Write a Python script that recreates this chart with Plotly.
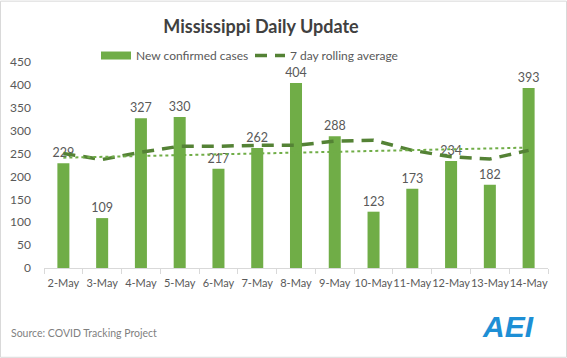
import plotly.graph_objects as go

dates = ["2-May", "3-May", "4-May", "5-May", "6-May", "7-May", "8-May",
         "9-May", "10-May", "11-May", "12-May", "13-May", "14-May"]
new_cases = [229, 109, 327, 330, 217, 262, 404, 288, 123, 173, 234, 182, 393]
rolling_avg = [250, 237, 253, 266, 266, 268, 268, 277, 279, 257, 243, 238, 257]
trend_x = ["2-May", "14-May"]
trend_y = [241, 263]
y_ticks = [0, 50, 100, 150, 200, 250, 300, 350, 400, 450]

W, H = 567, 358
L, R, T, B = 44, 19, 61.5, 90
PW, PH = W - L - R, H - T - B

def px(x):
    return (x - L) / PW

def py(y):
    return (H - B - y) / PH

GRAY = "#595959"
FONT = "Lato"
BAR_GREEN = "#70AD47"

fig = go.Figure()
fig.add_trace(go.Bar(
    x=dates, y=new_cases, name="New confirmed cases", showlegend=False,
    marker=dict(color=BAR_GREEN, line=dict(width=0)),
    width=0.31,
    text=new_cases, textposition="outside", constraintext="none",
    textfont=dict(color=GRAY, size=12.5, family=FONT),
    cliponaxis=False,
))
# legend swatch for the bars (wide rectangle like the original)
fig.add_trace(go.Scatter(
    x=[None], y=[None], name="New confirmed cases", mode="lines",
    line=dict(color=BAR_GREEN, width=8),
))
fig.add_trace(go.Scatter(
    x=dates, y=rolling_avg, name="7 day rolling average", mode="lines",
    line=dict(color="#548235", width=3.5, dash="12px,8px"),
))
fig.add_trace(go.Scatter(
    x=trend_x, y=trend_y, mode="lines", showlegend=False,
    line=dict(color=BAR_GREEN, width=2, dash="dot"),
))

fig.update_layout(
    width=W, height=H,
    margin=dict(l=L, r=R, t=T, b=B, autoexpand=False),
    paper_bgcolor="white", plot_bgcolor="white",
    font=dict(family=FONT, color=GRAY, size=12),
    title=dict(text="<b>Mississippi Daily Update</b>", x=261 / W, xanchor="center",
               y=1 - 27 / H, yanchor="middle",
               font=dict(family=FONT, size=18, color="#404040")),
    showlegend=True,
    legend=dict(orientation="h", x=px(96), xanchor="left", y=py(55), yanchor="middle",
                font=dict(size=12, color=GRAY, family=FONT), bgcolor="rgba(0,0,0,0)",
                entrywidth=109, entrywidthmode="pixels", traceorder="normal"),
    xaxis=dict(type="category", categoryorder="array", categoryarray=dates,
               showline=True, linecolor="#D9D9D9", linewidth=1,
               ticks="outside", tickson="boundaries", ticklen=5, tickcolor="#D9D9D9",
               tickangle=0, automargin=False, ticklabelstandoff=5,
               tickfont=dict(size=11, color=GRAY, family=FONT), showgrid=False,
               range=[-0.5, len(dates) - 0.5]),
    yaxis=dict(range=[0, 450], tickvals=y_ticks, showgrid=False, zeroline=False,
               showline=False, tickfont=dict(size=12, color=GRAY, family=FONT),
               ticks="", automargin=False, ticklabelstandoff=12),
    shapes=[dict(type="rect", xref="paper", yref="paper",
                 x0=px(0.5), x1=px(566.5), y0=py(357.5), y1=py(0.5),
                 line=dict(color="#D9D9D9", width=1), fillcolor="rgba(0,0,0,0)", layer="below")],
    annotations=[
        dict(text="Source: COVID Tracking Project", xref="paper", yref="paper",
             x=px(9), y=py(333), xanchor="left", yanchor="middle", showarrow=False,
             font=dict(size=10.5, color="#7F7F7F", family=FONT)),
        dict(text="<b><i>AEI</i></b>", xref="paper", yref="paper",
             x=px(536), y=py(327), xanchor="right", yanchor="middle", showarrow=False,
             font=dict(size=30, color="#1E8FD5", family="Liberation Sans")),
    ],
)

fig.write_html("out.html", config={"displayModeBar": False},
               post_script="document.body.style.margin='0';")
